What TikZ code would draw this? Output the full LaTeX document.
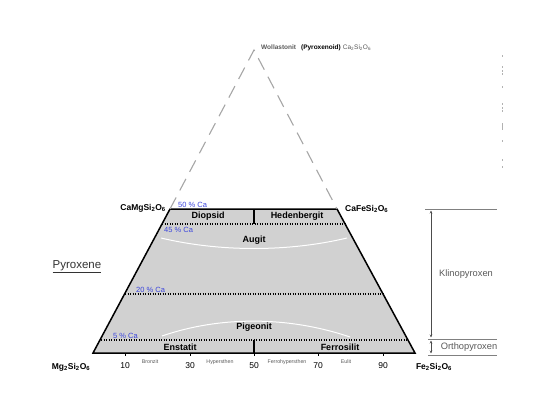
\documentclass[tikz,border=0pt]{standalone}
\usepackage{fontspec}
\setmainfont{Liberation Sans}
\usetikzlibrary{arrows.meta}
\definecolor{fillg}{gray}{0.82}
\definecolor{blu}{RGB}{60,70,220}
\definecolor{txtg}{gray}{0.35}
\tikzset{
  x=1pt,y=-1pt,
  border/.style={line width=1.5pt,black},
  dotline/.style={line width=1.3pt,dash pattern=on 1.2pt off 1.3pt},
  mineral/.style={font=\fontsize{9}{10}\selectfont\bfseries,inner sep=0pt},
  pct/.style={font=\fontsize{7.5}{8}\selectfont,text=blu,inner sep=0pt,anchor=south west},
  num/.style={font=\fontsize{8.5}{9}\selectfont,inner sep=0pt},
  tiny/.style={font=\fontsize{5.3}{6}\selectfont,text=txtg,inner sep=0pt},
  chem/.style={font=\fontsize{8.5}{9}\selectfont\bfseries,inner sep=0pt},
  whitecurve/.style={white,line width=1pt},
  rangeline/.style={gray,line width=0.6pt},
  rangearrow/.style={black!70,line width=0.6pt,{Stealth[length=3pt,width=2.5pt]}-{Stealth[length=3pt,width=2.5pt]}},
  rangetext/.style={inner sep=0pt,font=\fontsize{9.3}{10}\selectfont,text=black!65},
}
\begin{document}
\begin{tikzpicture}
\useasboundingbox (0,0) rectangle (540,409);
% corners
\coordinate (BL) at (93,353);
\coordinate (BR) at (415,353);
\coordinate (TR) at (337,209);
\coordinate (TL) at (170,209);
\coordinate (AP) at (254,50);
% fill
\fill[fillg] (BL) -- (BR) -- (TR) -- (TL) -- cycle;
% white curves
\draw[whitecurve] (161,238) .. controls (220,252) and (288,252) .. (347,238);
\draw[whitecurve] (162,336) .. controls (220,316) and (288,316) .. (350,337);
% dotted lines
\draw[dotline] (162,224) -- (345,224);
\draw[dotline] (125,294) -- (383,294);
\draw[dotline] (101,340) -- (408,340);
% dividers
\draw[line width=1.3pt] (254,209) -- (254,224);
\draw[line width=1.3pt] (254,340) -- (254,353);
% border
\draw[border,line join=miter] (TL) -- (BL) -- (BR) -- (TR) -- cycle;
% dashed to apex
\draw[gray!70,line width=1.1pt,dash pattern=on 13pt off 8pt] (TL) -- (AP) -- (TR);
% ticks
\foreach \xx in {125,190,254,318,383} \draw[line width=1pt] (\xx,353) -- (\xx,356);
% minerals
\node[mineral] (dio) at (208,216.5) {Diopsid};
\node[mineral] (hed) at (297,216.5) {Hedenbergit};
\node[mineral] (aug) at (254,240) {Augit};
\node[mineral] (pig) at (254,327.5) {Pigeonit};
\node[mineral] (ens) at (180,347) {Enstatit};
\node[mineral] (fer) at (340,347) {Ferrosilit};
% percentages
\node[pct] (p50) at (178,208) {50 \% Ca};
\node[pct] (p45) at (164,233) {45 \% Ca};
\node[pct] (p20) at (136,293) {20 \% Ca};
\node[pct] (p5) at (113,339) {5 \% Ca};
% axis numbers
\node[num] (n10) at (125,366) {10};
\node[num] (n30) at (190,366) {30};
\node[num] (n50) at (254,366) {50};
\node[num] (n70) at (318,366) {70};
\node[num] (n90) at (383,366) {90};
\node[tiny] (bro) at (150,362) {Bronzit};
\node[tiny] (hyp) at (220,362) {Hypersthen};
\node[tiny] (fhy) at (287,362) {Ferrohypersthen};
\node[tiny] (eul) at (346,362) {Eulit};
% end members
\node[chem] (mg) at (71,367) {Mg\textsubscript{2}Si\textsubscript{2}O\textsubscript{6}};
\node[chem] (fe) at (434,367) {Fe\textsubscript{2}Si\textsubscript{2}O\textsubscript{6}};
\node[chem,anchor=east] (camg) at (166,208) {CaMgSi\textsubscript{2}O\textsubscript{6}};
\node[chem,anchor=west] (cafe) at (345,209) {CaFeSi\textsubscript{2}O\textsubscript{6}};
% top label
\node[inner sep=0pt,anchor=west,font=\fontsize{6.5}{7}\selectfont] (wol) at (261,48)
 {\textcolor{txtg}{\bfseries Wollastonit}\hspace{5pt}{\bfseries (Pyroxenoid)}\hspace{2pt}\textcolor{txtg}{Ca\textsubscript{2}Si\textsubscript{2}O\textsubscript{6}}};
% Pyroxene
\node[inner sep=0pt,font=\fontsize{11.5}{12}\selectfont,text=black!80] (pyr) at (77,267) {\underline{Pyroxene}};
% right ranges
\coordinate (r1a) at (425,209); \coordinate (r1b) at (497,209);
\coordinate (r2a) at (428,339); \coordinate (r2b) at (497,339);
\coordinate (r3a) at (428,355); \coordinate (r3b) at (497,355);
\draw[rangeline] (r1a) -- (r1b);
\draw[rangeline] (r2a) -- (r2b);
\draw[rangeline] (r3a) -- (r3b);
\coordinate (k1) at (431,210.5); \coordinate (k2) at (431,337.5);
\coordinate (o1) at (431,340.5); \coordinate (o2) at (431,353.5);
\draw[rangearrow] (k1) -- (k2);
\draw[rangearrow] (o1) -- (o2);
\node[rangetext] (kli) at (466,274) {Klinopyroxen};
\node[rangetext] (ort) at (469,347) {Orthopyroxen};
% faint marks at right edge
\foreach \yy in {55,66,70,73,86,103,107,110,140,159,166} \fill[gray!60] (501.6,\yy) rectangle (502.4,\yy+2);
\fill[gray!60] (501.6,123) rectangle (502.4,130);
\end{tikzpicture}
\end{document}
